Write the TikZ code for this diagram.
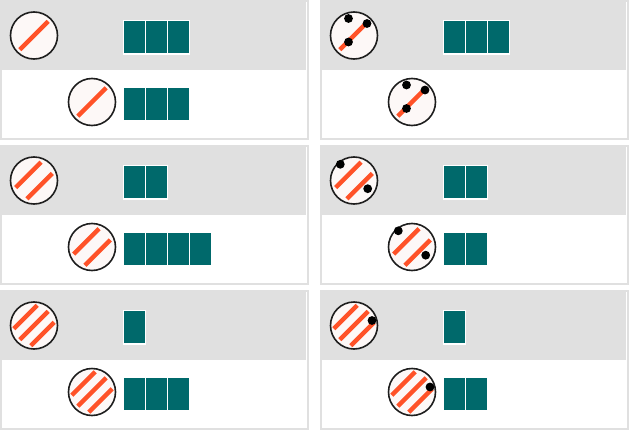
\documentclass[tikz,border=0pt]{standalone}
\usepackage{tikz}
\usetikzlibrary{positioning,calc}

\definecolor{frame}{HTML}{E0E0E0}
\definecolor{rim}{HTML}{1E1E1E}
\definecolor{discfill}{HTML}{FDF8F7}
\definecolor{cut}{HTML}{FF5228}
\definecolor{cellcol}{HTML}{00696B}

\begin{document}
\begin{tikzpicture}[
  x=1pt, y=1pt,
  panel/.style={draw=frame, line width=2pt, fill=white, minimum width=307pt, minimum height=138pt, inner sep=0pt},
  band/.style={fill=frame, minimum width=304pt, minimum height=68pt, inner sep=0pt, outer sep=0pt, anchor=north west},
  disc/.style={circle, draw=rim, line width=1.6pt, fill=discfill, minimum size=47pt, inner sep=0pt},
  stripe/.style={draw=cut, line width=4.5pt},
  one/.style={disc, path picture={
    \begin{scope}[shift={(path picture bounding box.center)}]
      \draw[stripe] (-14.14,-14.14) -- (14.14,14.14);
    \end{scope}}},
  two/.style={disc, path picture={
    \begin{scope}[shift={(path picture bounding box.center)}]
      \draw[stripe] (-18.38,-7.07) -- (7.07,18.38);
      \draw[stripe] (-7.07,-18.38) -- (18.38,7.07);
    \end{scope}}},
  three/.style={disc, path picture={
    \begin{scope}[shift={(path picture bounding box.center)}]
      \draw[stripe] (-20.15,-3.18) -- (3.18,20.15);
      \draw[stripe] (-14.14,-14.14) -- (14.14,14.14);
      \draw[stripe] (-3.18,-20.15) -- (20.15,3.18);
    \end{scope}}},
  pin/.style={fill=black},
  cell/.style={fill=cellcol, draw=white, line width=1.5pt, minimum width=22pt, minimum height=33.5pt, inner sep=0pt, outer sep=0pt},
  node distance=0pt
]
\path[use as bounding box] (0,0) rectangle (632,-431);

% panels, two per row
\node[panel] (p1) at (154.5,-70) {};
\node[panel] (p2) at (474.5,-70) {};
\node[panel] (p3) at (154.5,-215) {};
\node[panel] (p4) at (474.5,-215) {};
\node[panel] (p5) at (154.5,-360) {};
\node[panel] (p6) at (474.5,-360) {};

\node[band] (h1) at ($(p1.north west)+(2,-2)$) {};
\node[band] (h2) at ($(p2.north west)+(2,-2)$) {};
\node[band] (h3) at ($(p3.north west)+(2,-2)$) {};
\node[band] (h4) at ($(p4.north west)+(2,-2)$) {};
\node[band] (h5) at ($(p5.north west)+(2,-2)$) {};
\node[band] (h6) at ($(p6.north west)+(2,-2)$) {};

% discs
\node[one] (t1) at ($(p1.north west)+(34,-35.5)$) {};
\node[one] (b1) at ($(p1.north west)+(92,-102)$) {};
\node[one] (t2) at ($(p2.north west)+(34,-35.5)$) {};
\node[one] (b2) at ($(p2.north west)+(92,-102)$) {};
\node[two] (t3) at ($(p3.north west)+(34,-35.5)$) {};
\node[two] (b3) at ($(p3.north west)+(92,-102)$) {};
\node[two] (t4) at ($(p4.north west)+(34,-35.5)$) {};
\node[two] (b4) at ($(p4.north west)+(92,-102)$) {};
\node[three] (t5) at ($(p5.north west)+(34,-35.5)$) {};
\node[three] (b5) at ($(p5.north west)+(92,-102)$) {};
\node[three] (t6) at ($(p6.north west)+(34,-35.5)$) {};
\node[three] (b6) at ($(p6.north west)+(92,-102)$) {};

% pins
\fill[pin] ($(t2)+(-5.5,17)$) circle (4.4);
\fill[pin] ($(t2)+(13,12)$) circle (4.4);
\fill[pin] ($(t2)+(-5.5,-6.5)$) circle (4.4);
\fill[pin] ($(b2)+(-5.5,17)$) circle (4.4);
\fill[pin] ($(b2)+(13,12)$) circle (4.4);
\fill[pin] ($(b2)+(-5.5,-6.5)$) circle (4.4);
\fill[pin] ($(t4)+(-13.7,16.2)$) circle (4.4);
\fill[pin] ($(t4)+(13.7,-8.2)$) circle (4.4);
\fill[pin] ($(b4)+(-13.7,16.2)$) circle (4.4);
\fill[pin] ($(b4)+(13.7,-8.2)$) circle (4.4);
\fill[pin] ($(t6)+(18,5)$) circle (4.4);
\fill[pin] ($(b6)+(18,5)$) circle (4.4);

% cells
\node[cell, right=65pt of t1, yshift=-1.5pt] (t1a) {};
\node[cell, right=of t1a] (t1b) {};
\node[cell, right=of t1b] (t1c) {};
\node[cell, right=7pt of b1, yshift=-1.5pt] (b1a) {};
\node[cell, right=of b1a] (b1b) {};
\node[cell, right=of b1b] (b1c) {};

\node[cell, right=65pt of t2, yshift=-1.5pt] (t2a) {};
\node[cell, right=of t2a] (t2b) {};
\node[cell, right=of t2b] (t2c) {};

\node[cell, right=65pt of t3, yshift=-1.5pt] (t3a) {};
\node[cell, right=of t3a] (t3b) {};
\node[cell, right=7pt of b3, yshift=-1.5pt] (b3a) {};
\node[cell, right=of b3a] (b3b) {};
\node[cell, right=of b3b] (b3c) {};
\node[cell, right=of b3c] (b3d) {};

\node[cell, right=65pt of t4, yshift=-1.5pt] (t4a) {};
\node[cell, right=of t4a] (t4b) {};
\node[cell, right=7pt of b4, yshift=-1.5pt] (b4a) {};
\node[cell, right=of b4a] (b4b) {};

\node[cell, right=65pt of t5, yshift=-1.5pt] (t5a) {};
\node[cell, right=7pt of b5, yshift=-1.5pt] (b5a) {};
\node[cell, right=of b5a] (b5b) {};
\node[cell, right=of b5b] (b5c) {};

\node[cell, right=65pt of t6, yshift=-1.5pt] (t6a) {};
\node[cell, right=7pt of b6, yshift=-1.5pt] (b6a) {};
\node[cell, right=of b6a] (b6b) {};

\end{tikzpicture}
\end{document}
